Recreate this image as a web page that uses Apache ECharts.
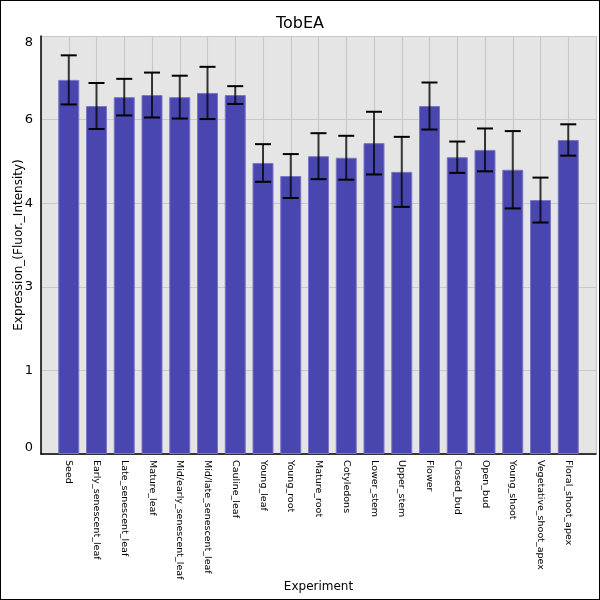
<!DOCTYPE html>
<html>
<head>
<meta charset="utf-8">
<script src="https://cdn.jsdelivr.net/npm/echarts@6/dist/echarts.min.js"></script>
<style>
  html, body { margin: 0; padding: 0; background: #fff; }
  #chart { width: 600px; height: 600px; box-sizing: border-box; border: 1px solid #000; }
</style>
</head>
<body>
<div id="chart"></div>
<script>
var categories = ['Seed', 'Early_senescent_leaf', 'Late_senescent_leaf', 'Mature_leaf',
  'Mid/early_senescent_leaf', 'Mid/late_senescent_leaf', 'Cauline_leaf', 'Young_leaf',
  'Young_root', 'Mature_root', 'Cotyledons', 'Lower_stem', 'Upper_stem', 'Flower',
  'Closed_bud', 'Open_bud', 'Young_shoot', 'Vegetative_shoot_apex', 'Floral_shoot_apex'];
var means = [7.16, 6.66, 6.83, 6.87, 6.83, 6.91, 6.87, 5.57, 5.32, 5.70,
  5.67, 5.95, 5.40, 6.66, 5.68, 5.82, 5.44, 4.86, 6.01];
var errors = [0.47, 0.44, 0.35, 0.43, 0.41, 0.50, 0.17, 0.36, 0.42, 0.44,
  0.42, 0.60, 0.67, 0.45, 0.30, 0.41, 0.74, 0.43, 0.30];
var yTicks = [0, 1.6, 3.2, 4.8, 6.4, 8.0];

;(function() {
  // pad one empty slot each side so the first/last bars sit a full step in
  var axisCats = [''].concat(categories, ['']);
  var barData = ['-'].concat(means, ['-']);
  var errData = categories.map(function(c, i) {
    return [i + 1, means[i] - errors[i], means[i] + errors[i]];
  });

  var chart = echarts.init(document.getElementById('chart'));
  chart.setOption({
    animation: false,
    title: {
      text: 'TobEA', left: 'center', top: 10,
      textStyle: { fontSize: 16, fontWeight: 'normal', color: '#000', fontFamily: 'DejaVu Sans' }
    },
    grid: { left: 40, right: 3, top: 35, bottom: 145, containLabel: false, outerBoundsMode: 'none',
      show: true, backgroundColor: '#e5e5e5', borderWidth: 0 },
    xAxis: {
      type: 'category', data: axisCats, boundaryGap: false,
      name: 'Experiment', nameLocation: 'middle', nameGap: 127, nameMoveOverlap: false,
      nameTextStyle: { fontSize: 12, color: '#000', fontFamily: 'DejaVu Sans' },
      axisLine: { lineStyle: { color: '#000', width: 1.5 } },
      axisTick: { show: false },
      axisLabel: { rotate: -90, interval: 0, fontSize: 9.5, color: '#000', margin: 6,
        fontFamily: 'DejaVu Sans' },
      splitLine: { show: true, lineStyle: { color: '#c8c8c8', width: 1.2 } }
    },
    yAxis: {
      type: 'value', min: 0, max: 8, interval: 1.6,
      name: 'Expression_(Fluor._Intensity)', nameLocation: 'middle', nameGap: 16, nameMoveOverlap: false,
      nameTextStyle: { fontSize: 12, color: '#000', fontFamily: 'DejaVu Sans' },
      axisLine: { show: true, lineStyle: { color: '#000', width: 1.5 } },
      axisTick: { show: false },
      axisLabel: { fontSize: 13, color: '#000', margin: 8, fontFamily: 'DejaVu Sans',
        verticalAlignMinLabel: 'bottom', verticalAlignMaxLabel: 'top',
        formatter: function(v) { return String(Math.floor(v + 1e-9)); } },
      splitLine: { show: true, lineStyle: { color: '#c8c8c8', width: 1.2 } }
    },
    series: [{
      type: 'bar', data: barData, barWidth: 21,
      itemStyle: { color: '#4a46b0', borderColor: '#7a77c6', borderWidth: 1 }
    }, {
      type: 'custom', data: errData, z: 10,
      renderItem: function(params, api) {
        var lo = api.coord([api.value(0), api.value(1)]);
        var hi = api.coord([api.value(0), api.value(2)]);
        var half = 8;
        var style = { stroke: '#000', lineWidth: 2 };
        return { type: 'group', children: [
          { type: 'line', shape: { x1: hi[0], y1: hi[1], x2: lo[0], y2: lo[1] },
            style: { stroke: 'rgba(0,0,0,0.75)', lineWidth: 2 } },
          { type: 'line', shape: { x1: hi[0] - half, y1: hi[1], x2: hi[0] + half, y2: hi[1] }, style: style },
          { type: 'line', shape: { x1: lo[0] - half, y1: lo[1], x2: lo[0] + half, y2: lo[1] }, style: style }
        ] };
      }
    }]
  });
})();
</script>
</body>
</html>
